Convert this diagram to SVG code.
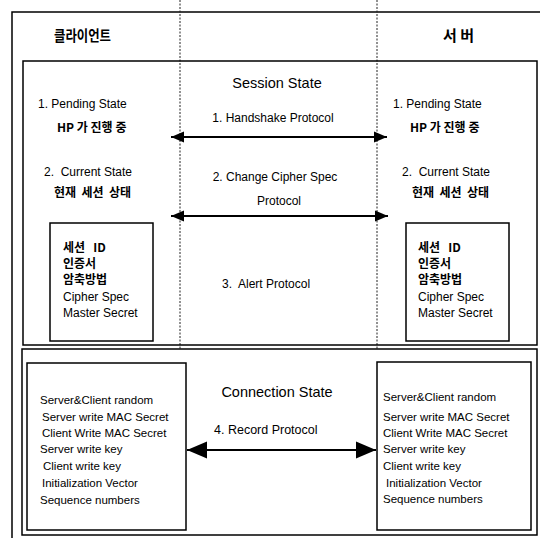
<svg xmlns="http://www.w3.org/2000/svg" width="540" height="538" viewBox="0 0 540 538">
<style>
text{font-family:"Liberation Sans","Noto Sans CJK KR",sans-serif;fill:#000;}
.t{font-size:12px;}
.c{font-size:11.5px;}
.h{font-size:14.5px;}
.k{font-family:"Noto Sans CJK KR","Liberation Sans",sans-serif;font-size:12px;font-weight:bold;}
.kh{font-family:"Noto Sans CJK KR","Liberation Sans",sans-serif;font-size:15px;font-weight:bold;}
.box{fill:none;stroke:#000;stroke-width:1.5;}
.dash{fill:none;stroke:#222;stroke-width:1;stroke-dasharray:2 1.5;}
.arr{fill:none;stroke:#000;stroke-width:2;}
</style>
<defs>
<marker id="ah" markerUnits="userSpaceOnUse" markerWidth="13" markerHeight="12" refX="13" refY="6" orient="auto-start-reverse"><path d="M0,0.5 L13,6 L0,11.5 z" fill="#000"/></marker>
<marker id="ahb" markerUnits="userSpaceOnUse" markerWidth="20" markerHeight="18" refX="20" refY="9" orient="auto-start-reverse"><path d="M0,0.5 L20,9 L0,17.5 z" fill="#000"/></marker>
</defs>
<rect width="540" height="538" fill="#fff"/>
<g id="frame">
<path class="box" d="M12,545 L12,12 L540,12"/>
<line class="dash" x1="180" y1="0" x2="180" y2="350"/>
<line class="dash" x1="377" y1="0" x2="377" y2="350"/>
</g>
<g id="client-header"><text class="kh" x="54" y="41" textLength="57" lengthAdjust="spacingAndGlyphs">클라이언트</text></g>
<g id="server-header"><text class="kh" x="443" y="41">서 버</text></g>
<g id="session-state">
<rect class="box" x="23" y="61" width="514" height="284"/>
<text class="h" x="277" y="88" text-anchor="middle">Session State</text>
</g>
<g id="client-session">
<text class="t" x="38" y="108">1. Pending State</text>
<text class="k" x="57" y="132">HP 가 진행  중</text>
<text class="t" x="44" y="176" xml:space="preserve">2.  Current State</text>
<text class="k" x="54" y="197" xml:space="preserve">현재  세션  상태</text>
</g>
<g id="client-session-box">
<rect class="box" x="50" y="223" width="103" height="118"/>
<text class="k" x="63" y="252" xml:space="preserve">세션   ID</text>
<text class="k" x="63" y="268">인증서</text>
<text class="k" x="63" y="284">암축방법</text>
<text class="t" x="63" y="301">Cipher Spec</text>
<text class="t" x="63" y="317">Master Secret</text>
</g>
<g id="server-session">
<text class="t" x="393" y="108">1. Pending State</text>
<text class="k" x="410" y="132">HP 가 진행  중</text>
<text class="t" x="402" y="176" xml:space="preserve">2.  Current State</text>
<text class="k" x="412" y="197" xml:space="preserve">현재  세션  상태</text>
</g>
<g id="server-session-box">
<rect class="box" x="406" y="223" width="103" height="118"/>
<text class="k" x="418" y="252" xml:space="preserve">세션   ID</text>
<text class="k" x="418" y="268">인증서</text>
<text class="k" x="418" y="284">암축방법</text>
<text class="t" x="418" y="301">Cipher Spec</text>
<text class="t" x="418" y="317">Master Secret</text>
</g>
<g id="connection-state">
<rect class="box" x="22" y="349" width="515" height="186"/>
<text class="h" x="277" y="397" text-anchor="middle">Connection State</text>
</g>
<g id="client-connection-box">
<rect class="box" x="27" y="363" width="159" height="167"/>
<text class="c" x="40" y="404">Server&amp;Client random</text>
<text class="c" x="42" y="421">Server write MAC Secret</text>
<text class="c" x="42" y="437">Client Write MAC Secret</text>
<text class="c" x="40" y="453">Server write key</text>
<text class="c" x="43" y="470">Client write key</text>
<text class="c" x="42" y="487">Initialization Vector</text>
<text class="c" x="40" y="504">Sequence numbers</text>
</g>
<g id="server-connection-box">
<rect class="box" x="377" y="362" width="154" height="168"/>
<text class="c" x="383" y="401">Server&amp;Client random</text>
<text class="c" x="383" y="421">Server write MAC Secret</text>
<text class="c" x="383" y="437">Client Write MAC Secret</text>
<text class="c" x="383" y="453">Server write key</text>
<text class="c" x="383" y="470">Client write key</text>
<text class="c" x="386" y="487">Initialization Vector</text>
<text class="c" x="383" y="503">Sequence numbers</text>
</g>
<g id="connectors">
<line class="arr" x1="171" y1="137" x2="387" y2="137" marker-start="url(#ah)" marker-end="url(#ah)"/>
<text class="t" x="273" y="122" text-anchor="middle">1.  Handshake Protocol</text>
<line class="arr" x1="171" y1="216" x2="388" y2="216" marker-start="url(#ah)" marker-end="url(#ah)"/>
<text class="t" x="275" y="181" text-anchor="middle">2. Change Cipher Spec</text>
<text class="t" x="279" y="205" text-anchor="middle">Protocol</text>
<text class="t" x="222" y="288" xml:space="preserve">3.  Alert Protocol</text>
<line class="arr" x1="187" y1="450" x2="376" y2="450" marker-start="url(#ahb)" marker-end="url(#ahb)"/>
<text class="t" x="214" y="434" style="font-size:12.5px">4. Record Protocol</text>
</g>
</svg>
